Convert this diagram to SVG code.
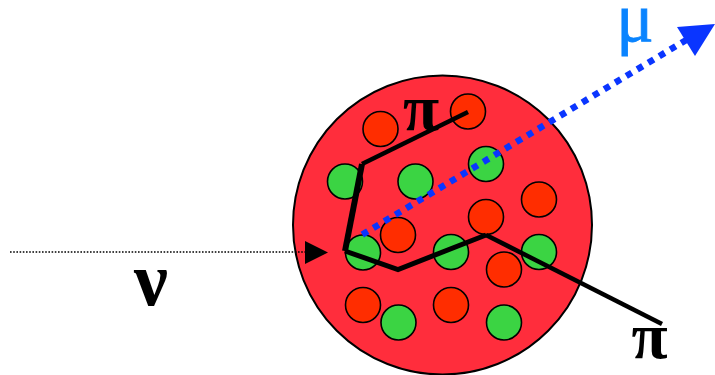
<svg xmlns="http://www.w3.org/2000/svg" width="715" height="375" viewBox="0 0 715 375">
  <style>
    .nucleon { stroke: #000; stroke-width: 1.6; }
    .red { fill: #ff2d00; }
    .green { fill: #3bd443; }
    .track { fill: none; stroke: #000; stroke-linejoin: miter; }
    .greek { font-family: "Liberation Serif", "DejaVu Serif", serif; font-weight: bold; fill: #000; }
  </style>
  <rect width="715" height="375" fill="#fff"/>

  <g id="nucleus">
    <circle cx="442.5" cy="225" r="149.5" fill="#ff2d3c" stroke="#000" stroke-width="2"/>
  </g>

  <g id="protons">
    <circle class="nucleon red" cx="380.5" cy="129" r="17.5"/>
    <circle class="nucleon red" cx="468" cy="111.5" r="17.5"/>
    <circle class="nucleon red" cx="398" cy="235" r="17.5"/>
    <circle class="nucleon red" cx="486" cy="217" r="17.5"/>
    <circle class="nucleon red" cx="539" cy="199.5" r="17.5"/>
    <circle class="nucleon red" cx="504" cy="269.5" r="17.5"/>
    <circle class="nucleon red" cx="363" cy="305" r="17.5"/>
    <circle class="nucleon red" cx="451" cy="305" r="17.5"/>
  </g>

  <g id="neutrons">
    <circle class="nucleon green" cx="345" cy="181.5" r="17.5"/>
    <circle class="nucleon green" cx="415.5" cy="181.5" r="17.5"/>
    <circle class="nucleon green" cx="486" cy="164" r="17.5"/>
    <circle class="nucleon green" cx="363" cy="252.5" r="17.5"/>
    <circle class="nucleon green" cx="451" cy="252" r="17.5"/>
    <circle class="nucleon green" cx="539" cy="252" r="17.5"/>
    <circle class="nucleon green" cx="398.5" cy="322.5" r="17.5"/>
    <circle class="nucleon green" cx="504" cy="322.5" r="17.5"/>
  </g>

  <g id="connectors">
    <!-- incoming neutrino -->
    <line x1="10" y1="252" x2="305" y2="252" stroke="#000" stroke-width="1.5" stroke-dasharray="1.6 1.6"/>
    <polygon points="305,241 328,252.5 305,264" fill="#000"/>
    <!-- outgoing muon -->
    <line x1="362.3" y1="234.6" x2="687" y2="39.5" stroke="#0a35ff" stroke-width="6.5" stroke-dasharray="6.4 6.43"/>
    <polygon points="677,27 715,24 695,56" fill="#0a35ff"/>
    <!-- hadron tracks -->
    <polyline class="track" stroke-width="6" points="345,251 362,164"/>
    <polyline class="track" stroke-width="4.5" points="362,164 468,112"/>
    <polyline class="track" stroke-width="5" points="345,251 398,269.5 486,235"/>
    <polyline class="track" stroke-width="4.5" points="486,235 662,324"/>
  </g>

  <g id="labels">
    <text class="greek" x="421" y="130" font-size="66" text-anchor="middle">π</text>
    <text class="greek" x="649.5" y="358" font-size="66" text-anchor="middle">π</text>
    <text class="greek" x="151" y="305" font-size="76" text-anchor="middle">ν</text>
    <text x="635" y="41" font-size="70" text-anchor="middle" font-family="Liberation Serif, DejaVu Serif, serif" fill="#0a84ff" stroke="#0a84ff" stroke-width="0.8">μ</text>
  </g>
</svg>
